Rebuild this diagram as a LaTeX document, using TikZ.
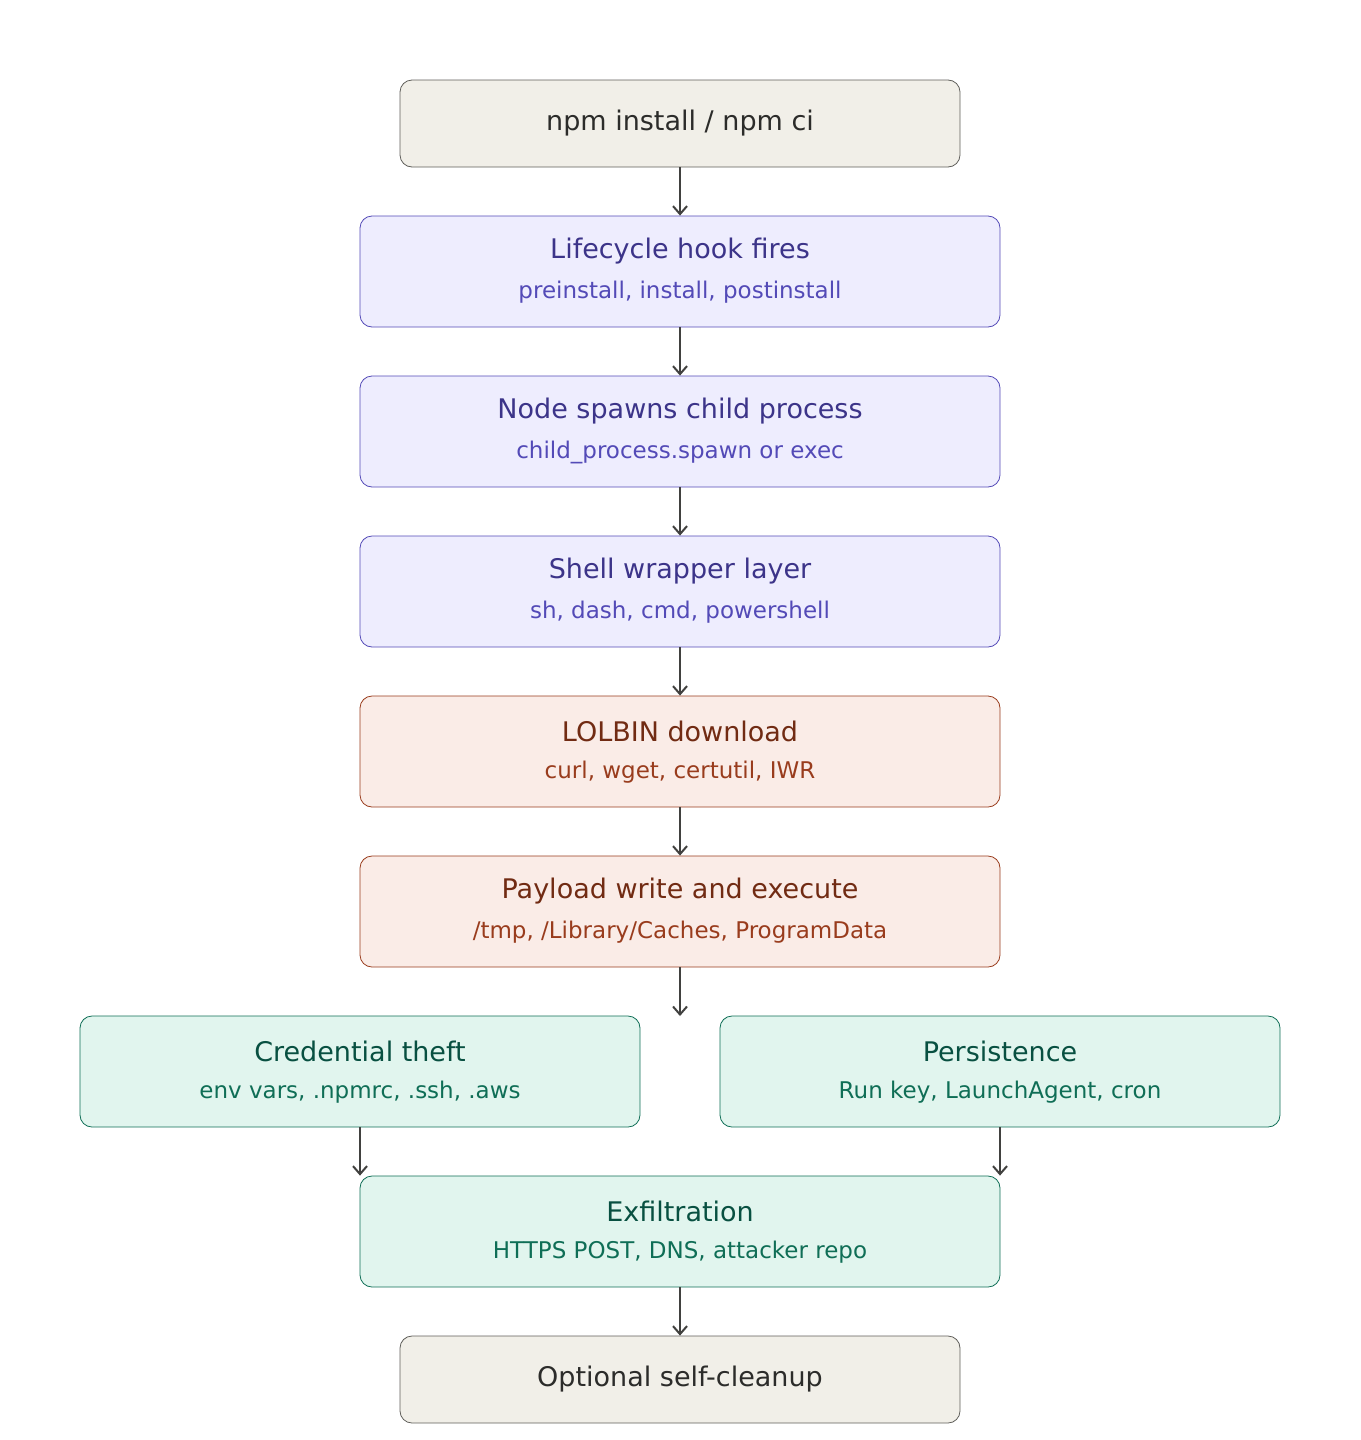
\documentclass[tikz,border=0pt]{standalone}
\usepackage{fontspec}
\setmainfont{DejaVu Sans}
\usetikzlibrary{arrows.meta}
\definecolor{gfill}{HTML}{F1EFE8}\definecolor{gline}{HTML}{5F5E5A}\definecolor{gtext}{HTML}{2C2C2A}
\definecolor{pfill}{HTML}{EEEDFE}\definecolor{pline}{HTML}{534AB7}\definecolor{ptitle}{HTML}{3C3489}
\definecolor{ofill}{HTML}{FAECE7}\definecolor{oline}{HTML}{993C1D}\definecolor{otitle}{HTML}{712B13}
\definecolor{tfill}{HTML}{E1F5EE}\definecolor{tline}{HTML}{0F6E56}\definecolor{ttitle}{HTML}{085041}
\begin{document}
\begin{tikzpicture}[x=1pt,y=-1pt,
 box/.style={draw,rounded corners=12pt,line width=0.8pt,inner sep=0pt},
 gray/.style={box,fill=gfill,draw=gline,minimum width=560pt,minimum height=87pt},
 pur/.style={box,fill=pfill,draw=pline,minimum width=640pt,minimum height=111pt},
 ora/.style={box,fill=ofill,draw=oline,minimum width=640pt,minimum height=111pt},
 grn/.style={box,fill=tfill,draw=tline,minimum height=111pt},
 ttl/.style={font=\fontsize{27}{32}\selectfont,inner sep=0pt},
 sub/.style={font=\fontsize{23}{28}\selectfont,inner sep=0pt},
 arr/.style={draw=gtext!90,line width=2.2pt,-{Straight Barb[length=8pt,width=14pt,line width=2pt]}}]
\useasboundingbox (0,0) rectangle (1360,1440);
\node[gray] (a) at (680,123.5) {};
\node[ttl,text=gtext] at (a.center) {npm install / npm ci};
\node[pur] (b) at (680,271.5) {};
\node[ttl,text=ptitle] at (680,251) {Lifecycle hook fires};
\node[sub,text=pline] at (680,292) {preinstall, install, postinstall};
\node[pur] (c) at (680,431.5) {};
\node[ttl,text=ptitle] at (680,411) {Node spawns child process};
\node[sub,text=pline] at (680,452) {child\_process.spawn or exec};
\node[pur] (d) at (680,591.5) {};
\node[ttl,text=ptitle] at (680,571) {Shell wrapper layer};
\node[sub,text=pline] at (680,612) {sh, dash, cmd, powershell};
\node[ora] (e) at (680,751.5) {};
\node[ttl,text=otitle] at (680,731) {LOLBIN download};
\node[sub,text=oline] at (680,772) {curl, wget, certutil, IWR};
\node[ora] (f) at (680,911.5) {};
\node[ttl,text=otitle] at (680,891) {Payload write and execute};
\node[sub,text=oline] at (680,932) {/tmp, /Library/Caches, ProgramData};
\node[grn,minimum width=560pt] (g) at (360,1071.5) {};
\node[ttl,text=ttitle] at (360,1051) {Credential theft};
\node[sub,text=tline] at (360,1092) {env vars, .npmrc, .ssh, .aws};
\node[grn,minimum width=560pt] (h) at (1000,1071.5) {};
\node[ttl,text=ttitle] at (1000,1051) {Persistence};
\node[sub,text=tline] at (1000,1092) {Run key, LaunchAgent, cron};
\node[grn,minimum width=640pt] (i) at (680,1231.5) {};
\node[ttl,text=ttitle] at (680,1211) {Exfiltration};
\node[sub,text=tline] at (680,1252) {HTTPS POST, DNS, attacker repo};
\node[gray] (j) at (680,1379.5) {};
\node[ttl,text=gtext] at (j.center) {Optional self-cleanup};
\coordinate (fe) at (680,1016);
\draw[arr] (a) -- (b);
\draw[arr] (b) -- (c);
\draw[arr] (c) -- (d);
\draw[arr] (d) -- (e);
\draw[arr] (e) -- (f);
\draw[arr] (f.south) -- (fe);
\draw[arr] (g.south) -- (g.south |- i.north);
\draw[arr] (h.south) -- (h.south |- i.north);
\draw[arr] (i) -- (j);
\end{tikzpicture}
\end{document}
